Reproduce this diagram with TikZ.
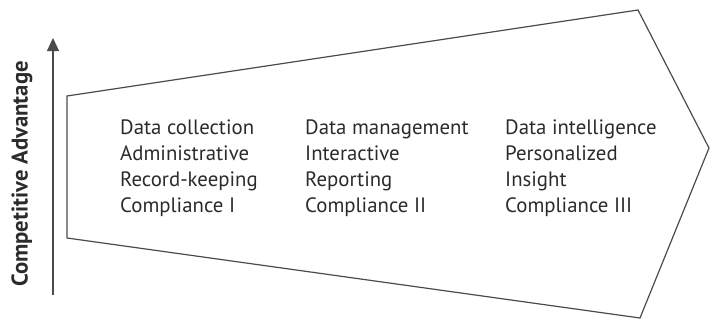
\documentclass[tikz,border=0pt]{standalone}
\usepackage{fontspec}
\setmainfont{PT Sans}
\usetikzlibrary{arrows.meta}
\definecolor{ink}{HTML}{2B2B2B}
\begin{document}
\begin{tikzpicture}[x=1pt,y=-1pt,
  outline/.style={draw=ink!85,line width=1.2pt,line join=miter},
  axis/.style={draw=ink!85,line width=1.2pt,-{Triangle[length=13pt,width=12pt]}},
  col/.style={anchor=base west,align=left,font=\fontsize{20.8}{25.8}\selectfont,text=ink,inner sep=0pt},
  axlabel/.style={rotate=90,font=\bfseries\fontsize{22.7}{24}\selectfont,text=ink,inner sep=0pt}]
\useasboundingbox (0,0) rectangle (710,322);
\coordinate (lt) at (67,96);
\coordinate (tr) at (638,10);
\coordinate (tip) at (709,148);
\coordinate (br) at (640,318);
\coordinate (lb) at (67,238);
\draw[outline] (lt) -- (tr) -- (tip) -- (br) -- (lb) -- cycle;
\coordinate (a0) at (53,295);
\coordinate (a1) at (53,38);
\draw[axis] (a0) -- (a1);
\node[axlabel] (lab) at (22,174) {Competitive Advantage};
\node[col] (c1) at (120,212) {Data collection\\Administrative\\Record-keeping\\Compliance I};
\node[col] (c2) at (305,212) {Data management\\Interactive\\Reporting\\Compliance II};
\node[col] (c3) at (505,212) {Data intelligence\\Personalized\\Insight\\Compliance III};
\end{tikzpicture}
\end{document}
